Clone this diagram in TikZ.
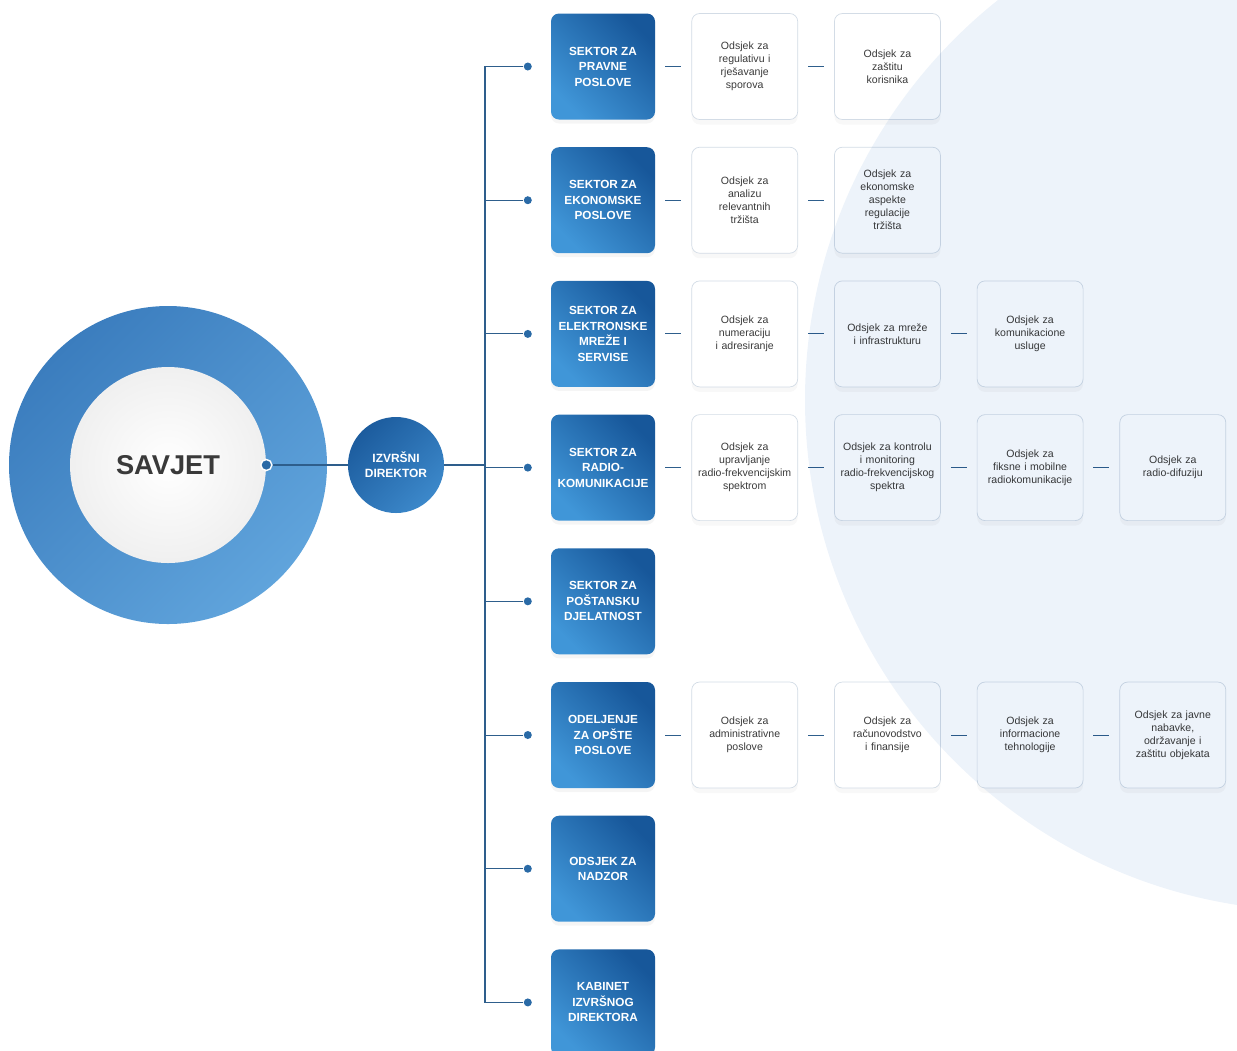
\documentclass[tikz,border=0pt]{standalone}
\usepackage{fontspec}
\setmainfont{Liberation Sans}
\usetikzlibrary{positioning, shadows}

\definecolor{linijaBoja}{HTML}{2E5E8C}
\definecolor{tackaBoja}{HTML}{2A6AA6}
\definecolor{sekTamna}{HTML}{17579A}
\definecolor{sekSvijetla}{HTML}{4096D8}
\definecolor{prstenTamni}{HTML}{3B7DBE}
\definecolor{prstenSvijetli}{HTML}{60A4DC}
\definecolor{dirTamna}{HTML}{1C5C9E}
\definecolor{dirSvijetla}{HTML}{3C88CA}
\definecolor{pozadina}{HTML}{EDF3FA}
\definecolor{okvir}{HTML}{D3DCE6}
\definecolor{tekstBoja}{HTML}{3A3A3A}

\begin{document}
\begin{tikzpicture}[
    node distance=0.54cm and 0.72cm,
    sektor/.style={rectangle, rounded corners=0.16cm, minimum width=2.08cm, minimum height=2.12cm, align=center, text=white, font=\fontsize{6.7}{8.8}\selectfont\bfseries, top color=sekTamna, bottom color=sekSvijetla, shading angle=-45, drop shadow={shadow xshift=0cm, shadow yshift=-0.08cm, opacity=0.08}},
    odsjek/.style={rectangle, rounded corners=0.16cm, inner sep=0.06cm, minimum width=2.12cm, minimum height=2.12cm, text width=2cm, align=center, text=tekstBoja, font=\fontsize{6}{7.4}\selectfont, draw=okvir, line width=0.4pt, fill=white, drop shadow={shadow xshift=0cm, shadow yshift=-0.1cm, opacity=0.06}},
    tacka/.style={circle, fill=tackaBoja, inner sep=0pt, minimum size=0.16cm},
    linija/.style={draw=linijaBoja, line width=0.6pt},
    veza/.style={draw=linijaBoja, line width=0.6pt, shorten <=0.2cm, shorten >=0.2cm}
]
\useasboundingbox (0,0) rectangle (24.74,-21);

% savjet i direktor
\node (prsten) [circle, minimum size=6.36cm, top color=prstenTamni, bottom color=prstenSvijetli, shading angle=45] at (3.36,-9.3) {};
\node (savjet) [circle, minimum size=3.92cm, inner color=white, outer color=black!6, text=tekstBoja, font=\fontsize{15.5}{18}\selectfont\bfseries] at (prsten) {SAVJET};
\node (tackaS) [circle, fill=tackaBoja, draw=white, line width=0.8pt, inner sep=0pt, minimum size=0.22cm] at (savjet.east) {};
\node (direktor) [circle, minimum size=1.92cm, align=center, text=white, top color=dirTamna, bottom color=dirSvijetla, shading angle=45, font=\fontsize{6.8}{8.6}\selectfont\bfseries] at (7.92,-9.3) {IZVRŠNI\\DIREKTOR};

% sektori
\node (sek1) [sektor] at (12.06,-1.33) {SEKTOR ZA\\PRAVNE\\POSLOVE};
\node (sek2) [sektor, below=of sek1] {SEKTOR ZA\\EKONOMSKE\\POSLOVE};
\node (sek3) [sektor, below=of sek2] {SEKTOR ZA\\ELEKTRONSKE\\MREŽE I\\SERVISE};
\node (sek4) [sektor, below=of sek3] {SEKTOR ZA\\RADIO-\\KOMUNIKACIJE};
\node (sek5) [sektor, below=of sek4] {SEKTOR ZA\\POŠTANSKU\\DJELATNOST};
\node (sek6) [sektor, below=of sek5] {ODELJENJE\\ZA OPŠTE\\POSLOVE};
\node (sek7) [sektor, below=of sek6] {ODSJEK ZA\\NADZOR};
\node (sek8) [sektor, below=of sek7] {KABINET\\IZVRŠNOG\\DIREKTORA};

% odsjeci
\node (odj11) [odsjek, right=of sek1] {Odsjek za\\regulativu i\\rješavanje\\sporova};
\node (odj12) [odsjek, right=of odj11] {Odsjek za\\zaštitu\\korisnika};
\node (odj21) [odsjek, right=of sek2] {Odsjek za\\analizu\\relevantnih\\tržišta};
\node (odj22) [odsjek, right=of odj21] {Odsjek za\\ekonomske\\aspekte\\regulacije\\tržišta};
\node (odj31) [odsjek, right=of sek3] {Odsjek za\\numeraciju\\i adresiranje};
\node (odj32) [odsjek, right=of odj31] {Odsjek za mreže\\i infrastrukturu};
\node (odj33) [odsjek, right=of odj32] {Odsjek za\\komunikacione\\usluge};
\node (odj41) [odsjek, right=of sek4] {Odsjek za\\upravljanje\\radio-frekvencijskim\\spektrom};
\node (odj42) [odsjek, right=of odj41] {Odsjek za kontrolu\\i monitoring\\radio-frekvencijskog\\spektra};
\node (odj43) [odsjek, right=of odj42] {Odsjek za\\fiksne i mobilne\\radiokomunikacije};
\node (odj44) [odsjek, right=of odj43] {Odsjek za\\radio-difuziju};
\node (odj61) [odsjek, right=of sek6] {Odsjek za\\administrativne\\poslove};
\node (odj62) [odsjek, right=of odj61] {Odsjek za\\računovodstvo\\i finansije};
\node (odj63) [odsjek, right=of odj62] {Odsjek za\\informacione\\tehnologije};
\node (odj64) [odsjek, right=of odj63] {Odsjek za javne\\nabavke,\\održavanje i\\zaštitu objekata};

% tacke i stablo
\foreach \i in {1,...,8}
    \node (t\i) [tacka, left=0.37cm of sek\i] {};
\coordinate (deblo) at (9.7,0);

\draw [linija] (tackaS) -- (direktor);
\draw [linija] (direktor.east) -- (direktor.east -| deblo);
\draw [linija] (t1) -- (t1 -| deblo) -- (t8 -| deblo) -- (t8);
\foreach \i in {2,...,7}
    \draw [linija] (t\i -| deblo) -- (t\i);

\draw [veza] (sek1) -- (odj11);
\draw [veza] (odj11) -- (odj12);
\draw [veza] (sek2) -- (odj21);
\draw [veza] (odj21) -- (odj22);
\draw [veza] (sek3) -- (odj31);
\draw [veza] (odj31) -- (odj32);
\draw [veza] (odj32) -- (odj33);
\draw [veza] (sek4) -- (odj41);
\draw [veza] (odj41) -- (odj42);
\draw [veza] (odj42) -- (odj43);
\draw [veza] (odj43) -- (odj44);
\draw [veza] (sek6) -- (odj61);
\draw [veza] (odj61) -- (odj62);
\draw [veza] (odj62) -- (odj63);
\draw [veza] (odj63) -- (odj64);

% svijetla pozadina desno
\begin{scope}[blend mode=multiply]
\fill [pozadina] (26.32,-8.0) circle (10.22cm);
\end{scope}
\end{tikzpicture}
\end{document}
